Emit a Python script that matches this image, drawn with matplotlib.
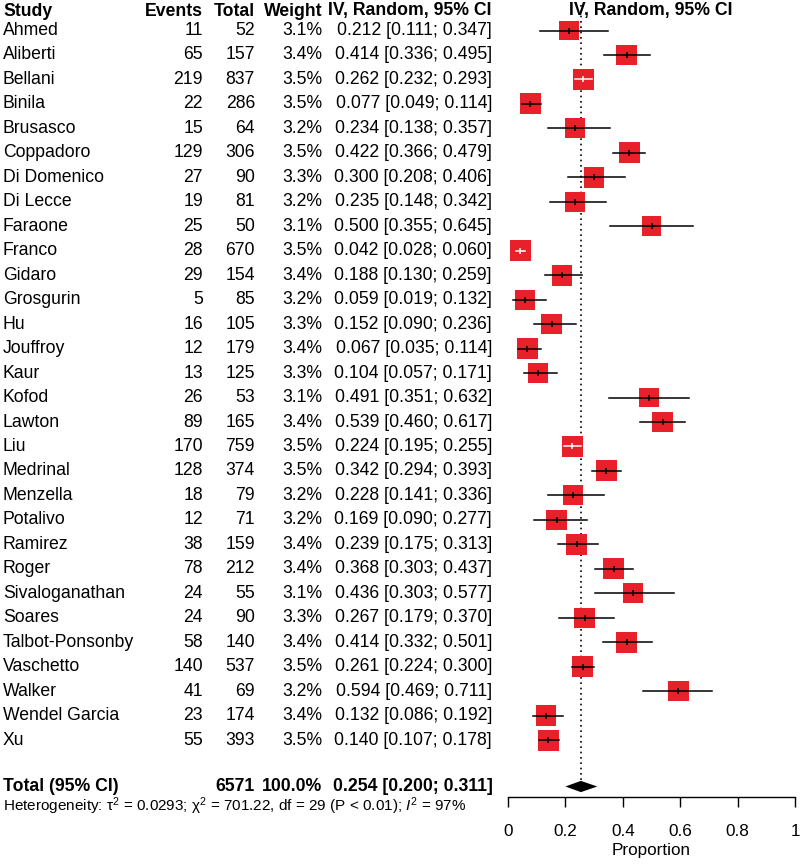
import numpy as np
import matplotlib
matplotlib.use("Agg")
import matplotlib.pyplot as plt
import matplotlib.transforms as mtransforms

plt.rcParams['font.family'] = ['Liberation Sans', 'DejaVu Sans']
plt.rcParams['mathtext.fontset'] = 'custom'
plt.rcParams['mathtext.rm'] = 'Liberation Sans'
plt.rcParams['mathtext.it'] = 'Liberation Sans:italic'

# data
studies = ["Ahmed", "Aliberti", "Bellani", "Binila", "Brusasco", "Coppadoro",
           "Di Domenico", "Di Lecce", "Faraone", "Franco", "Gidaro", "Grosgurin",
           "Hu", "Jouffroy", "Kaur", "Kofod", "Lawton", "Liu", "Medrinal",
           "Menzella", "Potalivo", "Ramirez", "Roger", "Sivaloganathan", "Soares",
           "Talbot-Ponsonby", "Vaschetto", "Walker", "Wendel Garcia", "Xu"]
events = [11, 65, 219, 22, 15, 129, 27, 19, 25, 28, 29, 5, 16, 12, 13, 26, 89,
          170, 128, 18, 12, 38, 78, 24, 24, 58, 140, 41, 23, 55]
totals = [52, 157, 837, 286, 64, 306, 90, 81, 50, 670, 154, 85, 105, 179, 125,
          53, 165, 759, 374, 79, 71, 159, 212, 55, 90, 140, 537, 69, 174, 393]
weights = [3.1, 3.4, 3.5, 3.5, 3.2, 3.5, 3.3, 3.2, 3.1, 3.5, 3.4, 3.2, 3.3, 3.4,
           3.3, 3.1, 3.4, 3.5, 3.5, 3.2, 3.2, 3.4, 3.4, 3.1, 3.3, 3.4, 3.5, 3.2,
           3.4, 3.5]
est = [0.212, 0.414, 0.262, 0.077, 0.234, 0.422, 0.300, 0.235, 0.500, 0.042,
       0.188, 0.059, 0.152, 0.067, 0.104, 0.491, 0.539, 0.224, 0.342, 0.228,
       0.169, 0.239, 0.368, 0.436, 0.267, 0.414, 0.261, 0.594, 0.132, 0.140]
lower = [0.111, 0.336, 0.232, 0.049, 0.138, 0.366, 0.208, 0.148, 0.355, 0.028,
         0.130, 0.019, 0.090, 0.035, 0.057, 0.351, 0.460, 0.195, 0.294, 0.141,
         0.090, 0.175, 0.303, 0.303, 0.179, 0.332, 0.224, 0.469, 0.086, 0.107]
upper = [0.347, 0.495, 0.293, 0.114, 0.357, 0.479, 0.406, 0.342, 0.645, 0.060,
         0.259, 0.132, 0.236, 0.114, 0.171, 0.632, 0.617, 0.255, 0.393, 0.336,
         0.277, 0.313, 0.437, 0.577, 0.370, 0.501, 0.300, 0.711, 0.192, 0.178]
total_n = 6571
total_w = "100.0%"
total_est, total_lo, total_hi = 0.254, 0.200, 0.311
xticks = [0, 0.2, 0.4, 0.6, 0.8, 1]
xticklabels = ["0", "0.2", "0.4", "0.6", "0.8", "1"]

W, H = 800, 865
fig = plt.figure(figsize=(W / 100, H / 100), dpi=100)

# forest panel; row i sits at pixel 30.5 + 24.47*i
step = 24.47
y0 = 30.5
ax_left, ax_right, ax_bottom = 508, 795, 797
ax = fig.add_axes([ax_left / W, (H - ax_bottom) / H, (ax_right - ax_left) / W, ax_bottom / H])
ax.set_xlim(0, 1)
ax.set_ylim((ax_bottom - y0) / step, -y0 / step)
total_row = (786.5 - y0) / step

red = '#E8202A'
rows = np.arange(len(studies))
side_px = 21 * np.sqrt(np.array(weights) / 3.5)
side_pt = side_px * 0.72
ax.scatter(est, rows, s=side_pt ** 2, marker='s', color=red, linewidths=0, zorder=3)

px_per_unit = ax_right - ax_left
for i in rows:
    half = side_px[i] / 2 / px_per_unit
    inside = lower[i] >= est[i] - half and upper[i] <= est[i] + half
    c = 'white' if inside else 'black'
    ax.plot([lower[i], upper[i]], [i, i], color=c, lw=1.1, zorder=4)
    ax.plot(est[i], i, marker='|', color=c, markersize=5, mew=1.1, zorder=4)

# pooled diamond and dotted reference line
dh = 0.23
ax.fill([total_lo, total_est, total_hi, total_est],
        [total_row, total_row - dh, total_row, total_row + dh],
        color='black', lw=0, zorder=3)
ax.vlines(total_est, -1.05, total_row - dh, colors='black', linestyles=(0, (1, 2.2)), lw=1.2)

for s in ['top', 'right', 'left']:
    ax.spines[s].set_visible(False)
ax.spines['bottom'].set_linewidth(1.0)
ax.set_yticks([])
ax.set_xticks(xticks)
ax.set_xticklabels(xticklabels)
ax.tick_params(axis='x', length=7, width=1.0, pad=12.5, labelsize=12.3)
ax.set_xlabel("Proportion", fontsize=12.3, labelpad=3)

# text columns
tr = mtransforms.blended_transform_factory(fig.transFigure, ax.transData)
fs = 12.7
hdr_row = (11 - y0) / step
fig.text(3 / W, hdr_row, "Study", transform=tr, ha='left', va='center', fontsize=fs, weight='bold')
fig.text(203 / W, hdr_row, "Events", transform=tr, ha='right', va='center', fontsize=fs, weight='bold')
fig.text(255 / W, hdr_row, "Total", transform=tr, ha='right', va='center', fontsize=fs, weight='bold')
fig.text(322 / W, hdr_row, "Weight", transform=tr, ha='right', va='center', fontsize=fs, weight='bold')
fig.text(410 / W, hdr_row, "IV, Random, 95% CI", transform=tr, ha='center', va='center', fontsize=fs, weight='bold')
fig.text(651 / W, hdr_row, "IV, Random, 95% CI", transform=tr, ha='center', va='center', fontsize=fs, weight='bold')

for i in rows:
    fig.text(3 / W, i, studies[i], transform=tr, ha='left', va='center', fontsize=fs)
    fig.text(203 / W, i, str(events[i]), transform=tr, ha='right', va='center', fontsize=fs)
    fig.text(255 / W, i, str(totals[i]), transform=tr, ha='right', va='center', fontsize=fs)
    fig.text(322 / W, i, "%.1f%%" % weights[i], transform=tr, ha='right', va='center', fontsize=fs)
    fig.text(492 / W, i, "%.3f [%.3f; %.3f]" % (est[i], lower[i], upper[i]), transform=tr,
             ha='right', va='center', fontsize=fs)

fig.text(3 / W, total_row, "Total (95% CI)", transform=tr, ha='left', va='center', fontsize=fs, weight='bold')
fig.text(255 / W, total_row, str(total_n), transform=tr, ha='right', va='center', fontsize=fs, weight='bold')
fig.text(322 / W, total_row, total_w, transform=tr, ha='right', va='center', fontsize=fs, weight='bold')
fig.text(493 / W, total_row, "%.3f [%.3f; %.3f]" % (total_est, total_lo, total_hi), transform=tr,
         ha='right', va='center', fontsize=fs, weight='bold')

fig.text(3 / W, 1 - 806 / H,
         r"Heterogeneity: τ$^2$ = 0.0293; χ$^2$ = 701.22, df = 29 (P < 0.01); $\mathit{I}^2$ = 97%",
         ha='left', va='center', fontsize=11)

fig.savefig("out.png", dpi=100)
